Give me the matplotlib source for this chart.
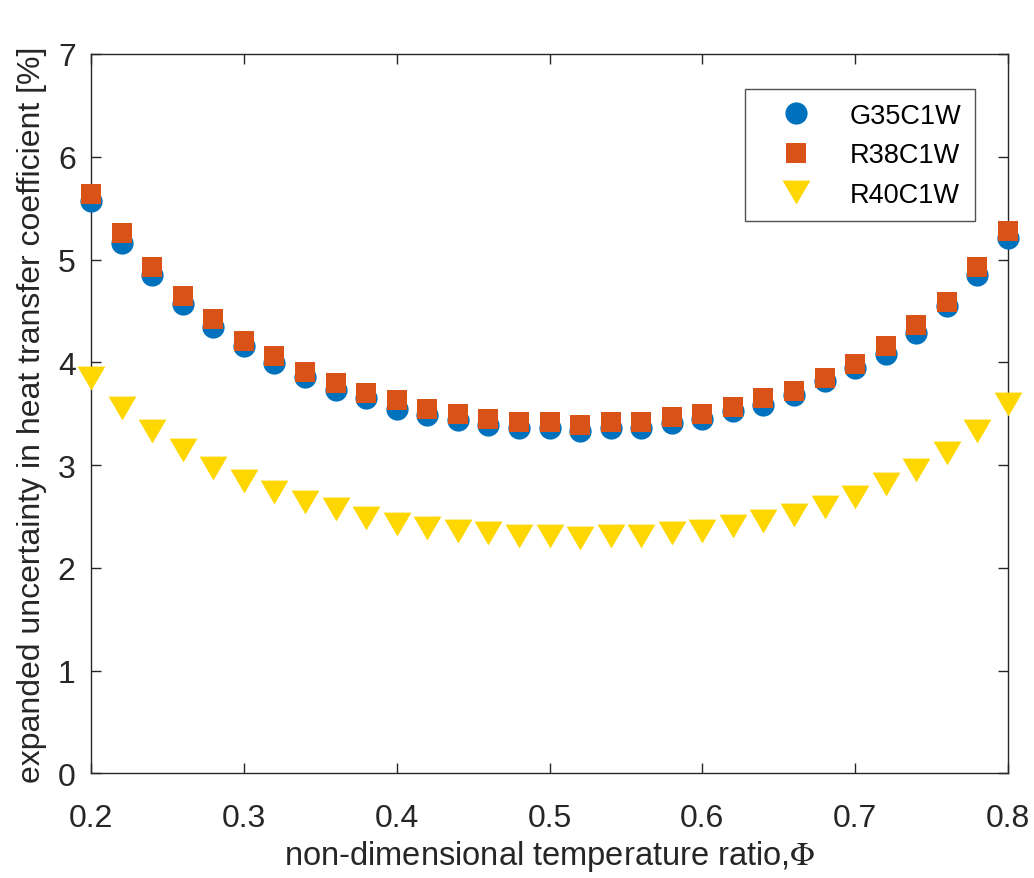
import matplotlib
matplotlib.use("Agg")
import matplotlib.pyplot as plt

plt.rcParams['font.family'] = ['Liberation Sans', 'DejaVu Sans']
plt.rcParams['mathtext.fontset'] = 'stix'

phi = [0.20, 0.22, 0.24, 0.26, 0.28, 0.30, 0.32, 0.34, 0.36, 0.38, 0.40,
       0.42, 0.44, 0.46, 0.48, 0.50, 0.52, 0.54, 0.56, 0.58, 0.60,
       0.62, 0.64, 0.66, 0.68, 0.70, 0.72, 0.74, 0.76, 0.78, 0.80]

g35c1w = [5.57, 5.16, 4.85, 4.57, 4.34, 4.16, 3.99, 3.86, 3.73, 3.65, 3.55,
          3.49, 3.44, 3.39, 3.36, 3.36, 3.33, 3.36, 3.36, 3.41, 3.45,
          3.53, 3.58, 3.68, 3.82, 3.94, 4.08, 4.29, 4.55, 4.85, 5.21]

r38c1w = [5.64, 5.26, 4.93, 4.65, 4.42, 4.21, 4.06, 3.91, 3.80, 3.70, 3.63,
          3.55, 3.50, 3.45, 3.42, 3.42, 3.39, 3.42, 3.42, 3.47, 3.50,
          3.57, 3.65, 3.72, 3.85, 3.98, 4.16, 4.36, 4.59, 4.93, 5.28]

r40c1w = [3.85, 3.56, 3.33, 3.15, 2.97, 2.85, 2.74, 2.64, 2.57, 2.49, 2.43,
          2.39, 2.36, 2.34, 2.31, 2.31, 2.29, 2.31, 2.31, 2.34, 2.36,
          2.41, 2.46, 2.51, 2.59, 2.69, 2.82, 2.95, 3.12, 3.33, 3.59]

labels = ['G35C1W', 'R38C1W', 'R40C1W']
colors = ['#0072BD', '#D95319', '#FFD700']

x_ticks = [0.2, 0.3, 0.4, 0.5, 0.6, 0.7, 0.8]
y_ticks = [0, 1, 2, 3, 4, 5, 6, 7]

fig = plt.figure(figsize=(10.34, 8.79), dpi=100)
ax = fig.add_axes([0.0880, 0.1189, 0.8869, 0.8186])

tri = [(-1, 0.857), (1, 0.857), (0, -0.857), (-1, 0.857)]

ax.plot(phi, g35c1w, linestyle='none', marker='o', markersize=16,
        color=colors[0], markeredgewidth=0, label=labels[0], clip_on=False, zorder=3)
ax.plot(phi, r38c1w, linestyle='none', marker='s', markersize=13.7,
        color=colors[1], markeredgewidth=0, label=labels[1], clip_on=False, zorder=4)
ax.plot(phi, r40c1w, linestyle='none', marker=tri, markersize=20,
        color=colors[2], markeredgewidth=0, label=labels[2], clip_on=False, zorder=3)

ax.set_xlim(0.2, 0.8)
ax.set_ylim(0, 7)
ax.set_xticks(x_ticks)
ax.set_xticklabels([f'{v:.1f}' for v in x_ticks])
ax.set_yticks(y_ticks)
ax.set_yticklabels([str(v) for v in y_ticks])

axcol = '#262626'
for s in ax.spines.values():
    s.set_color(axcol)
    s.set_linewidth(1.0)
ax.tick_params(direction='in', length=7, width=1.0, colors=axcol,
               top=True, right=True, labelsize=23)
ax.tick_params(axis='x', pad=21)
ax.tick_params(axis='y', pad=11)
for lab in ax.get_xticklabels() + ax.get_yticklabels():
    lab.set_color(axcol)

ax.set_xlabel(r'non-dimensional temperature ratio,$\Phi$', fontsize=23.5, color=axcol, labelpad=4)
ax.set_ylabel('expanded uncertainty in heat transfer coefficient [%]', fontsize=23,
              color=axcol, labelpad=8)

leg = ax.legend(loc='upper right', bbox_to_anchor=(0.964, 0.951), borderaxespad=0,
                fancybox=False, frameon=True, fontsize=19.5, handlelength=2.77,
                handletextpad=0.59, labelspacing=0.5, borderpad=0.5)
leg.get_frame().set_edgecolor(axcol)
leg.get_frame().set_linewidth(1.0)

fig.savefig('out.png', dpi=100)
